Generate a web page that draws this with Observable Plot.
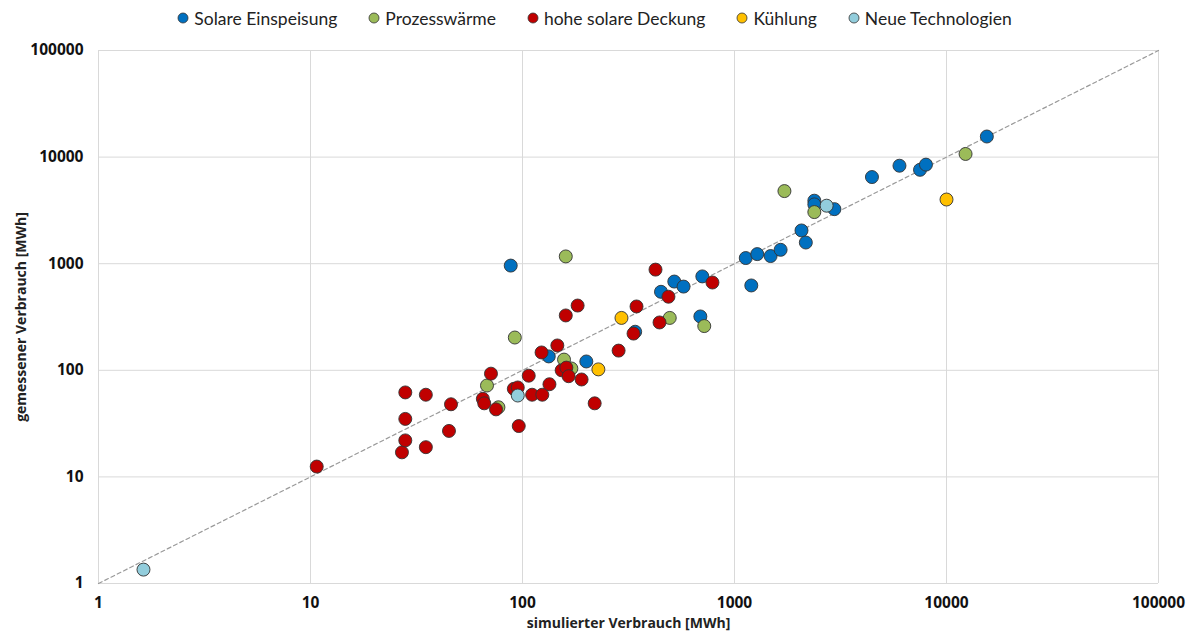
<!DOCTYPE html>
<html>
<head>
<meta charset="utf-8">
<script src="https://cdn.jsdelivr.net/npm/d3@7"></script>
<script src="https://cdn.jsdelivr.net/npm/@observablehq/plot@0.6"></script>
<style>
  html, body { margin: 0; padding: 0; background: #fff; }
  #legend {
    height: 36px; display: flex; justify-content: center; align-items: center;
    gap: 31px; font-family: Lato, "Open Sans", sans-serif; font-size: 17.5px; color: #222;
  }
  #legend .item { display: flex; align-items: center; gap: 5px; }
  #legend svg { display: block; }
  #chart svg { display: block; }
</style>
</head>
<body>
<div id="legend"></div>
<div id="chart"></div>
<script>
// Series names and their fill colours
const series = ["Solare Einspeisung", "Prozesswärme", "hohe solare Deckung", "Kühlung", "Neue Technologien"];
const colors = ["#0070C0", "#9BBB59", "#C00000", "#FFC000", "#92CDDC"];

// Simulated vs. measured consumption [MWh] per series
const solareSim  = [88, 133, 200, 340, 450, 520, 575, 705, 690, 1200, 1130, 1280, 1480, 1650, 2070, 2170, 2380, 2380, 2960, 4450, 6000, 7500, 8000, 15500];
const solareMeas = [960, 135, 121, 230, 545, 680, 610, 760, 320, 625, 1130, 1230, 1180, 1350, 2050, 1580, 3900, 3600, 3250, 6500, 8300, 7600, 8500, 15600];

const prozessSim  = [160, 92, 1720, 2380, 12300, 495, 720, 68, 77, 157, 170];
const prozessMeas = [1170, 203, 4800, 3050, 10700, 310, 260, 72, 45, 126, 104];

const deckungSim  = [10.7, 27, 28, 28, 28, 35, 35, 45, 46, 65, 66, 71, 75, 91, 95, 96, 107, 111, 124, 123, 134, 146, 153, 161, 165, 190, 160, 182, 219, 284, 334, 345, 424, 443, 488, 787];
const deckungMeas = [12.5, 17, 22, 35, 62, 59, 19, 27, 48, 54, 49, 93, 43, 67, 69, 30, 89, 59, 59, 147, 74, 171, 100, 106, 88, 82, 327, 405, 49, 153, 221, 397, 880, 281, 490, 666];

const kuehlungSim  = [293, 228, 10000];
const kuehlungMeas = [310, 102, 4000];

const neueSim  = [1.63, 95, 2720];
const neueMeas = [1.35, 58, 3500];

// Axis ticks (decades) and their labels
const ticks = [1, 10, 100, 1000, 10000, 100000];
const tickLabels = ["1", "10", "100", "1000", "10000", "100000"];

const xTitle = "simulierter Verbrauch [MWh]";
const yTitle = "gemessener Verbrauch [MWh]";

// Flat table in drawing order (series order)
const simLists = [solareSim, prozessSim, deckungSim, kuehlungSim, neueSim];
const measLists = [solareMeas, prozessMeas, deckungMeas, kuehlungMeas, neueMeas];
const points = [];
series.forEach((s, i) => {
  simLists[i].forEach((v, j) => points.push({series: s, sim: v, meas: measLists[i][j]}));
});

// Legend above the chart
const legend = d3.select("#legend");
series.forEach((s, i) => {
  const item = legend.append("div").attr("class", "item");
  const sw = item.append("svg").attr("width", 12).attr("height", 12);
  sw.append("circle").attr("cx", 6).attr("cy", 6).attr("r", 5)
    .attr("fill", colors[i]).attr("stroke", "#333").attr("stroke-width", 0.8);
  item.append("span").text(s);
});

const fmt = d => tickLabels[ticks.indexOf(d)];

const chart = Plot.plot({
  width: 1189,
  height: 603,
  marginLeft: 98,
  marginRight: 31,
  marginTop: 14,
  marginBottom: 56,
  style: {fontFamily: "'Open Sans', sans-serif", background: "#fff", color: "#000"},
  x: {type: "log", domain: [1, 100000]},
  y: {type: "log", domain: [1, 100000]},
  color: {domain: series, range: colors},
  marks: [
    Plot.gridX(ticks, {stroke: "#d9d9d9", strokeOpacity: 1, strokeWidth: 1}),
    Plot.gridY(ticks, {stroke: "#d9d9d9", strokeOpacity: 1, strokeWidth: 1}),
    Plot.axisX({ticks, tickFormat: fmt, tickSize: 0, tickPadding: 13, label: null,
      fontSize: 15.5, fontWeight: "bold", fill: "#111"}),
    Plot.axisY({ticks, tickFormat: fmt, tickSize: 0, tickPadding: 15, label: null,
      fontSize: 15.5, fontWeight: "bold", fill: "#111"}),
    // 1:1 reference line
    Plot.line([1, 100000], {x: d => d, y: d => d, stroke: "#9a9a9a", strokeWidth: 1.2, strokeDasharray: "4,3"}),
    Plot.dot(points, {x: "sim", y: "meas", fill: "series", r: 6.5, stroke: "#333", strokeWidth: 0.9, fillOpacity: 1}),
    Plot.text([xTitle], {frameAnchor: "bottom", dy: 44, fontSize: 14, fontWeight: "bold", fill: "#222"}),
    Plot.text([yTitle], {frameAnchor: "left", textAnchor: "middle", dx: -77, rotate: -90, fontSize: 14, fontWeight: "bold", fill: "#222"})
  ]
});
document.getElementById("chart").appendChild(chart);
</script>
</body>
</html>
